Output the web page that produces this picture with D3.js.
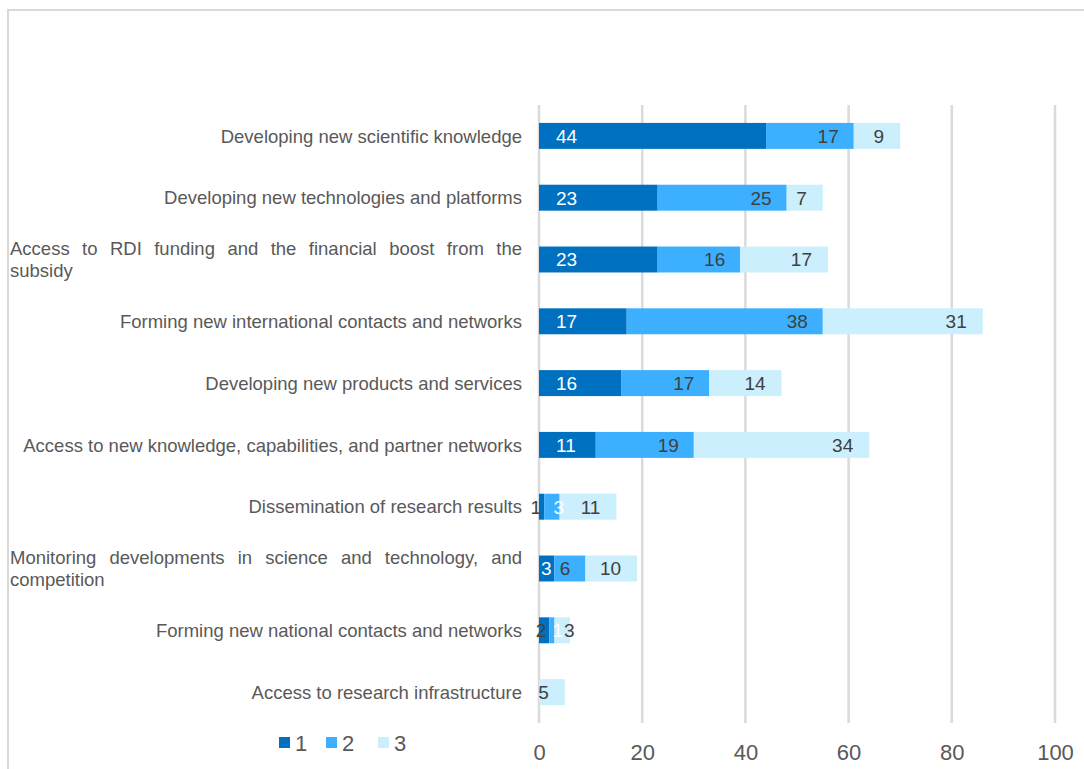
<!DOCTYPE html>
<html><head><meta charset="utf-8">
<script src="https://cdn.jsdelivr.net/npm/d3@7"></script>
<style>body{margin:0;background:#fff;}svg{display:block;font-family:"Liberation Sans",Arial,sans-serif;}</style>
</head><body>
<svg id="c" width="1084" height="769"></svg>
<script>
const categories = [
  "Developing new scientific knowledge",
  "Developing new technologies and platforms",
  "Access to RDI funding and the financial boost from the subsidy",
  "Forming new international contacts and networks",
  "Developing new products and services",
  "Access to new knowledge, capabilities, and partner networks",
  "Dissemination of research results",
  "Monitoring developments in science and technology, and competition",
  "Forming new national contacts and networks",
  "Access to research infrastructure"
];
const categoryLines = [
  null, null,
  ["Access to RDI funding and the financial boost from the", "subsidy"],
  null, null, null, null,
  ["Monitoring developments in science and technology, and", "competition"],
  null, null
];
const series1 = [44, 23, 23, 17, 16, 11, 1, 3, 2, 0];
const series2 = [17, 25, 16, 38, 17, 19, 3, 6, 1, 0];
const series3 = [9, 7, 17, 31, 14, 34, 11, 10, 3, 5];
const seriesNames = ["1", "2", "3"];
const xTicks = [0, 20, 40, 60, 80, 100];
const colors = ["#0070C0", "#3CB0FF", "#CCEFFD"];

const svg = d3.select("#c");
svg.append("rect").attr("x", 8).attr("y", 10).attr("width", 1090).attr("height", 780)
  .attr("fill", "none").attr("stroke", "#d9d9d9").attr("stroke-width", 2);

const x = d3.scaleLinear().domain([0, 100]).range([539, 1055]);
const y = d3.scaleBand().domain(categories).range([105, 723]).paddingInner(0.58).paddingOuter(0.29);

// gridlines
svg.append("g").selectAll("line").data(xTicks).join("line")
  .attr("x1", d => x(d)).attr("x2", d => x(d)).attr("y1", 105).attr("y2", 723)
  .attr("stroke", "#dadada").attr("stroke-width", 2.5);

// axis labels
const ax = svg.append("g").attr("transform", "translate(0,760)")
  .call(d3.axisBottom(x).tickValues(xTicks).tickSize(0).tickPadding(0));
ax.select(".domain").remove();
ax.selectAll("text").attr("fill", "#595959").attr("font-size", 22)
  .attr("font-family", "Liberation Sans, Arial, sans-serif").attr("dy", 0);

// stacked data
const rows = categories.map((c, i) => ({cat: c, s: [series1[i], series2[i], series3[i]]}));
const segs = [];
rows.forEach(r => {
  let acc = 0;
  r.s.forEach((v, k) => { segs.push({cat: r.cat, k, v, x0: acc, x1: acc + v}); acc += v; });
});
const vis = segs.filter(d => d.v > 0);

svg.append("g").selectAll("rect").data(vis).join("rect")
  .attr("x", d => x(d.x0)).attr("width", d => x(d.x1) - x(d.x0))
  .attr("y", d => y(d.cat)).attr("height", y.bandwidth())
  .attr("fill", d => colors[d.k]);

// data labels
svg.append("g").selectAll("text").data(vis).join("text")
  .attr("font-size", 19)
  .attr("y", d => y(d.cat) + y.bandwidth() / 2)
  .attr("dy", "0.36em")
  .each(function(d) {
    const w = x(d.x1) - x(d.x0);
    const t = d3.select(this).text(d.v);
    let px, anchor, fill;
    if (d.k === 0) {
      if (w >= 30) { px = x(d.x0) + 17; anchor = "start"; fill = "#fff"; }
      else { px = x(d.x1) - 3; anchor = "end"; fill = d.v <= 2 ? "#404040" : "#fff"; }
    } else if (d.k === 1) {
      if (w >= 25) { px = x(d.x1) - 15; anchor = "end"; fill = "#404040"; }
      else { px = x(d.x0) + w * 0.6; anchor = "start"; fill = "#fff"; }
    } else {
      if (w >= 22) { px = x(d.x1) - 16; anchor = "end"; }
      else { px = (x(d.x0) + x(d.x1)) / 2 + 7; anchor = "middle"; }
      fill = "#404040";
    }
    t.attr("x", px).attr("text-anchor", anchor).attr("fill", fill);
  });

// category labels
const cg = svg.append("g").attr("font-size", 18.5).attr("fill", "#595959");
categories.forEach((c, i) => {
  const cy = y(c) + y.bandwidth() / 2;
  const lines = categoryLines[i];
  if (!lines) {
    cg.append("text").attr("x", 522).attr("y", cy).attr("dy", "0.36em")
      .attr("text-anchor", "end").text(c);
  } else {
    const words = lines[0].split(" ");
    const left = 10, right = 522;
    const tmp = words.map(w => {
      const t = cg.append("text").attr("y", cy - 11).attr("dy", "0.36em").text(w);
      return {t, w: t.node().getComputedTextLength()};
    });
    const total = d3.sum(tmp, d => d.w);
    const gap = (right - left - total) / (words.length - 1);
    let px = left;
    tmp.forEach(d => { d.t.attr("x", px); px += d.w + gap; });
    cg.append("text").attr("x", left).attr("y", cy + 11).attr("dy", "0.36em").text(lines[1]);
  }
});

// legend
const lg = svg.append("g");
const legX = [279, 326, 378];
seriesNames.forEach((n, k) => {
  lg.append("rect").attr("x", legX[k]).attr("y", 737).attr("width", 11).attr("height", 11).attr("fill", colors[k]);
  lg.append("text").attr("x", legX[k] + 16).attr("y", 751).attr("font-size", 22).attr("fill", "#595959").text(n);
});
</script>
</body></html>
